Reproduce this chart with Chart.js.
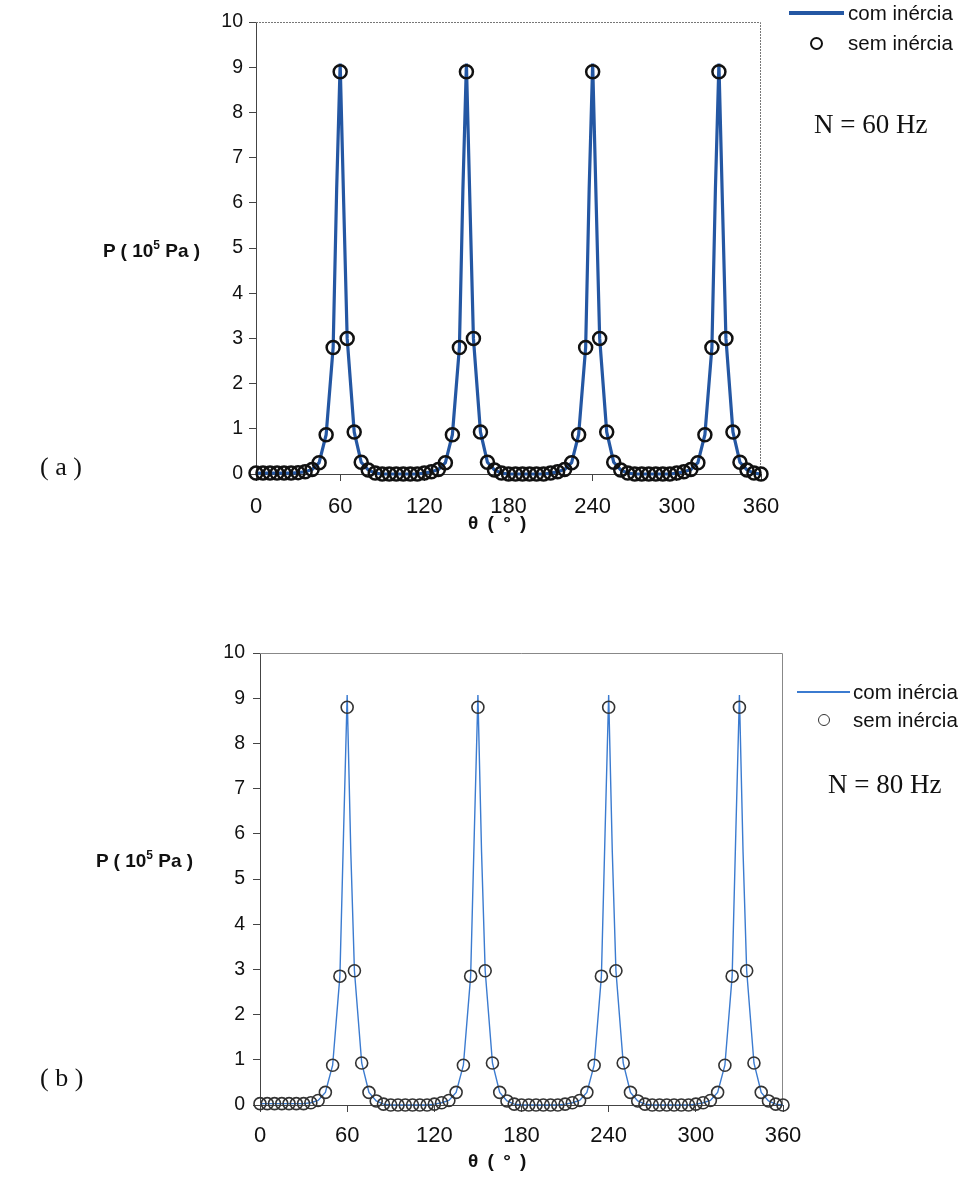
<!DOCTYPE html>
<html>
<head>
<meta charset="utf-8">
<script src="https://cdn.jsdelivr.net/npm/chart.js@4/dist/chart.umd.min.js"></script>
<style>
  html, body { margin: 0; padding: 0; background: #fff; }
  #wrap { position: relative; width: 964px; height: 1201px; overflow: hidden; background: #fff; }
  canvas { position: absolute; left: 0; }
  .txt { position: absolute; white-space: nowrap; line-height: 1; color: #111; transform: translateY(-50%); }
  .sans { font-family: 'Liberation Sans', Arial, sans-serif; }
  .serif { font-family: 'Liberation Serif', 'Times New Roman', serif; }
  .ytitle { font-weight: bold; font-size: 19px; }
  .ytitle sup { font-size: 12px; vertical-align: 8px; line-height: 0; }
  .xtitle { font-weight: bold; font-size: 19px; letter-spacing: 2px; }
  .tag { font-size: 26px; }
  .freq { font-size: 27px; }
  .leg { font-size: 20.5px; }
  .legline { position: absolute; }
  .legmark { position: absolute; border-radius: 50%; box-sizing: border-box; }
</style>
</head>
<body>
<div id="wrap">
  <canvas id="chartA" width="964" height="560" style="top:0"></canvas>
  <canvas id="chartB" width="964" height="641" style="top:560px"></canvas>
</div>
<script>
// Crank angle (degrees) at which the "sem inércia" values are given
const theta = [0,5,10,15,20,25,30,35,40,45,50,55,60,65,70,75,80,85,
  90,95,100,105,110,115,120,125,130,135,140,145,150,155,160,165,170,175,
  180,185,190,195,200,205,210,215,220,225,230,235,240,245,250,255,260,265,
  270,275,280,285,290,295,300,305,310,315,320,325,330,335,340,345,350,355,360];

// Angles for the "com inércia" curve (finer near each peak)
const thetaLine = [0,5,10,15,20,25,30,35,40,45,50,55,57.5,60,62.5,65,70,75,80,85,
  90,95,100,105,110,115,120,125,130,135,140,145,147.5,150,152.5,155,160,165,170,175,
  180,185,190,195,200,205,210,215,220,225,230,235,237.5,240,242.5,245,250,255,260,265,
  270,275,280,285,290,295,300,305,310,315,320,325,327.5,330,332.5,335,340,345,350,355,360];

// (a) N = 60 Hz — pressure in 10^5 Pa
const semA = [0.02,0.02,0.02,0.02,0.02,0.02,0.03,0.05,0.1,0.25,0.87,2.8,8.9,3.0,0.93,0.26,0.09,0.02,
  0,0,0,0,0,0,0.02,0.05,0.1,0.25,0.87,2.8,8.9,3.0,0.93,0.26,0.09,0.02,
  0,0,0,0,0,0,0.02,0.05,0.1,0.25,0.87,2.8,8.9,3.0,0.93,0.26,0.09,0.02,
  0,0,0,0,0,0,0.02,0.05,0.1,0.25,0.87,2.8,8.9,3.0,0.93,0.26,0.09,0.02,0];
const comA = [0.02,0.02,0.02,0.02,0.02,0.02,0.03,0.05,0.1,0.25,0.87,2.8,6.3,9.08,6.0,3.0,0.93,0.26,0.09,0.02,
  0,0,0,0,0,0,0.02,0.05,0.1,0.25,0.87,2.8,6.3,9.08,6.0,3.0,0.93,0.26,0.09,0.02,
  0,0,0,0,0,0,0.02,0.05,0.1,0.25,0.87,2.8,6.3,9.08,6.0,3.0,0.93,0.26,0.09,0.02,
  0,0,0,0,0,0,0.02,0.05,0.1,0.25,0.87,2.8,6.3,9.08,6.0,3.0,0.93,0.26,0.09,0.02,0];

// (b) N = 80 Hz — pressure in 10^5 Pa
const semB = [0.03,0.03,0.03,0.03,0.03,0.03,0.03,0.05,0.1,0.28,0.88,2.85,8.8,2.97,0.93,0.28,0.09,0.02,
  0,0,0,0,0,0,0.02,0.05,0.1,0.28,0.88,2.85,8.8,2.97,0.93,0.28,0.09,0.02,
  0,0,0,0,0,0,0.02,0.05,0.1,0.28,0.88,2.85,8.8,2.97,0.93,0.28,0.09,0.02,
  0,0,0,0,0,0,0.02,0.05,0.1,0.28,0.88,2.85,8.8,2.97,0.93,0.28,0.09,0.02,0];
const comB = [0.03,0.03,0.03,0.03,0.03,0.03,0.03,0.05,0.1,0.28,0.88,2.85,6.0,9.07,5.6,2.97,0.93,0.28,0.09,0.02,
  0,0,0,0,0,0,0.02,0.05,0.1,0.28,0.88,2.85,6.0,9.07,5.6,2.97,0.93,0.28,0.09,0.02,
  0,0,0,0,0,0,0.02,0.05,0.1,0.28,0.88,2.85,6.0,9.07,5.6,2.97,0.93,0.28,0.09,0.02,
  0,0,0,0,0,0,0.02,0.05,0.1,0.28,0.88,2.85,6.0,9.07,5.6,2.97,0.93,0.28,0.09,0.02,0];

// Axis tick labels
const xTicks = [0,60,120,180,240,300,360];
const yTicks = [0,1,2,3,4,5,6,7,8,9,10];

const seriesNames = ['com inércia', 'sem inércia'];

Chart.defaults.font.family = "'Liberation Sans', Arial, sans-serif";
Chart.defaults.color = '#111';

const pairs = (xs, ys) => xs.map((x, i) => ({ x: x, y: ys[i] }));

// Plot-area frame on the top and right sides
const framePlugin = {
  id: 'frame',
  beforeDatasetsDraw(chart, args, opts) {
    const a = chart.chartArea, ctx = chart.ctx;
    ctx.save();
    ctx.strokeStyle = opts.color;
    ctx.lineWidth = 1;
    ctx.setLineDash(opts.dash || []);
    ctx.beginPath();
    ctx.moveTo(a.left, a.top + 0.5);
    ctx.lineTo(a.right - 0.5, a.top + 0.5);
    ctx.lineTo(a.right - 0.5, a.bottom);
    ctx.stroke();
    ctx.restore();
  }
};

function makeChart(id, cfg) {
  return new Chart(document.getElementById(id), {
    type: 'scatter',
    data: {
      datasets: [
        {
          label: seriesNames[0],
          data: pairs(thetaLine, cfg.line),
          showLine: true,
          borderColor: cfg.lineColor,
          borderWidth: cfg.lineWidth,
          pointRadius: 0,
          tension: 0,
          order: 2,
          clip: false
        },
        {
          label: seriesNames[1],
          data: pairs(theta, cfg.marks),
          showLine: false,
          pointStyle: 'circle',
          pointRadius: cfg.markRadius,
          pointBorderWidth: cfg.markBorder,
          pointBorderColor: cfg.markColor,
          pointBackgroundColor: 'rgba(0,0,0,0)',
          order: 1,
          clip: false
        }
      ]
    },
    options: {
      responsive: false,
      maintainAspectRatio: false,
      animation: false,
      events: [],
      layout: { padding: { top: cfg.top, right: cfg.right, bottom: 0, left: 0 } },
      plugins: {
        legend: { display: false },
        tooltip: { enabled: false },
        frame: { color: cfg.frameColor, dash: cfg.frameDash }
      },
      scales: {
        x: {
          type: 'linear',
          min: 0, max: 360,
          afterBuildTicks: s => { s.ticks = xTicks.map(v => ({ value: v })); },
          afterFit: s => { s.height = cfg.xHeight; },
          ticks: { font: { size: 22 }, padding: cfg.xPad, maxRotation: 0, color: '#111' },
          grid: { drawOnChartArea: false, drawTicks: true, tickLength: 7, color: '#444', tickColor: '#444' },
          border: { display: true, color: '#444', width: 1 }
        },
        y: {
          type: 'linear',
          min: 0, max: 10,
          afterBuildTicks: s => { s.ticks = yTicks.map(v => ({ value: v })); },
          afterFit: s => { s.width = cfg.yWidth; },
          ticks: { font: { size: 19.5 }, padding: cfg.yPad, color: '#111' },
          grid: { drawOnChartArea: false, drawTicks: true, tickLength: 7, color: '#444', tickColor: '#444' },
          border: { display: true, color: '#444', width: 1 }
        }
      }
    },
    plugins: [framePlugin]
  });
}

const chartA = makeChart('chartA', {
  line: comA, marks: semA,
  lineColor: '#2457a3', lineWidth: 3.2,
  markRadius: 6.5, markBorder: 2.5, markColor: '#111',
  top: 22, right: 203, xHeight: 86, yWidth: 256, xPad: 13, yPad: 6,
  frameColor: '#777', frameDash: [2, 1]
});

const chartB = makeChart('chartB', {
  line: comB, marks: semB,
  lineColor: '#3b7bd0', lineWidth: 1.4,
  markRadius: 6, markBorder: 1.6, markColor: '#333',
  top: 93, right: 181, xHeight: 96, yWidth: 260, xPad: 11, yPad: 8,
  frameColor: '#888', frameDash: []
});

// Text annotations and legends
const wrap = document.getElementById('wrap');
function addText(html, cls, left, cy) {
  const d = document.createElement('div');
  d.className = 'txt ' + cls;
  d.innerHTML = html;
  d.style.left = left + 'px';
  d.style.top = cy + 'px';
  wrap.appendChild(d);
  return d;
}
function addLegend(chart, x0, yLine, yMark, textX, lineLen) {
  const lineDs = chart.data.datasets[0], markDs = chart.data.datasets[1];
  const ln = document.createElement('div');
  ln.className = 'legline';
  ln.style.left = x0 + 'px';
  ln.style.width = lineLen + 'px';
  ln.style.height = lineDs.borderWidth + 'px';
  ln.style.top = (yLine - lineDs.borderWidth / 2) + 'px';
  ln.style.background = lineDs.borderColor;
  wrap.appendChild(ln);
  const mk = document.createElement('div');
  const r = markDs.pointRadius;
  mk.className = 'legmark';
  mk.style.width = mk.style.height = (2 * r) + 'px';
  mk.style.left = (x0 + lineLen / 2 - r) + 'px';
  mk.style.top = (yMark - r) + 'px';
  mk.style.border = markDs.pointBorderWidth + 'px solid ' + markDs.pointBorderColor;
  wrap.appendChild(mk);
  addText(lineDs.label, 'sans leg', textX, yLine);
  addText(markDs.label, 'sans leg', textX, yMark);
}

// (a)
addLegend(chartA, 789, 13, 43, 848, 55);
addText('N = 60 Hz', 'serif freq', 814, 124);
addText('P ( 10<sup>5</sup> Pa )', 'sans ytitle', 103, 250);
addText('θ ( ° )', 'sans xtitle', 468, 522);
addText('( a )', 'serif tag', 40, 467);

// (b)
addLegend(chartB, 797, 692, 720, 853, 53);
addText('N = 80 Hz', 'serif freq', 828, 784);
addText('P ( 10<sup>5</sup> Pa )', 'sans ytitle', 96, 860);
addText('θ ( ° )', 'sans xtitle', 468, 1160);
addText('( b )', 'serif tag', 40, 1078);
</script>
</body>
</html>
